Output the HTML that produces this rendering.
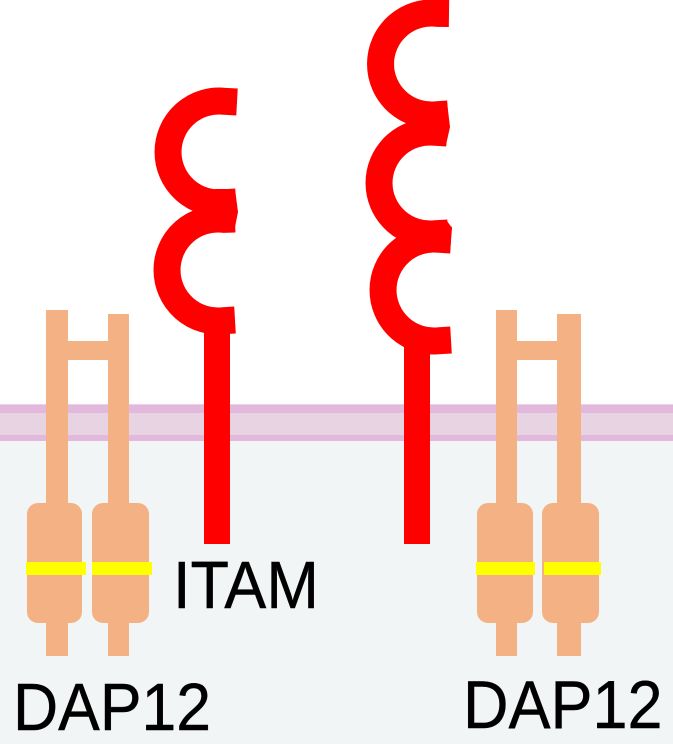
<!DOCTYPE html>
<html>
<head>
<meta charset="utf-8">
<style>
html,body{margin:0;padding:0;background:#fff;width:673px;height:744px;overflow:hidden}
svg{display:block}
text{font-family:"Liberation Sans",sans-serif;fill:#000;stroke:#000;stroke-width:.4}
</style>
</head>
<body>
<svg width="673" height="744" viewBox="0 0 673 744" xmlns="http://www.w3.org/2000/svg">
<rect x="0" y="0" width="673" height="744" fill="#fff"/>
<rect x="0" y="441" width="673" height="303" fill="#f2f5f5"/>
<rect x="0" y="404" width="673" height="37" fill="#e8d3e2"/>
<rect x="0" y="405" width="673" height="8" fill="#e2b8dd"/>
<rect x="0" y="435" width="673" height="6" fill="#e2b8dd"/>

<g fill="#f4b183">
<rect x="46" y="310" width="22" height="346"/>
<rect x="108" y="314" width="21" height="342"/>
<rect x="60" y="341" width="55" height="19"/>
<rect x="27" y="503" width="55" height="120" rx="11"/>
<rect x="92" y="503" width="57" height="120" rx="11"/>
<rect x="496" y="310" width="21" height="346"/>
<rect x="557" y="314" width="24" height="342"/>
<rect x="510" y="341" width="55" height="19"/>
<rect x="477" y="503" width="56" height="120" rx="11"/>
<rect x="542" y="503" width="57" height="120" rx="11"/>
</g>
<g fill="#ffff00">
<rect x="26" y="562" width="60" height="13"/>
<rect x="92" y="562" width="60" height="13"/>
<rect x="476" y="562" width="59" height="13"/>
<rect x="544" y="562" width="57" height="13"/>
</g>

<g fill="#ff0000">
<rect x="204" y="325" width="26" height="219"/>
<rect x="404" y="345" width="26" height="199"/>
</g>
<g fill="none" stroke="#ff0000" stroke-width="27">
<path d="M237 102 L225 101.350 A51 51 0 1 0 225 202.650 L236 202"/>
<path d="M235 219 L224 219.350 A51 51 0 1 0 224 320.650 L235 320"/>
<path d="M449 13.500 L437.500 13.350 A51 51 0 1 0 437.500 114.650 L448 114"/>
<path d="M447 133 L436 132.350 A51 51 0 1 0 436 233.650 L448 233"/>
<path d="M451 240 L440 239.350 A51 51 0 1 0 440 340.650 L451 340"/>
</g>
<g fill="#ff0000">
<polygon points="235,189 238,212 234,232 215,232 215,189"/>
<polygon points="447,102 450,127 446,145 428,145 428,102"/>
<polygon points="447,221 452,228 450,252 432,252 432,221"/>
</g>

<text transform="translate(173 608) scale(1 1.06)" font-size="63">ITAM</text>
<text transform="translate(13 730) scale(1 1.07)" font-size="62.500">DAP12</text>
<text transform="translate(463 728) scale(1 1.07)" font-size="63">DAP12</text>
</svg>
</body>
</html>
